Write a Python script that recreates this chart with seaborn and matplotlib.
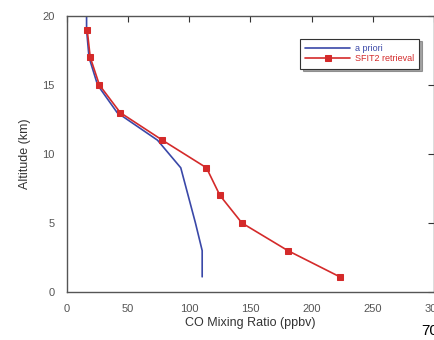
import matplotlib
matplotlib.use("Agg")
import matplotlib.pyplot as plt
import seaborn as sns
import pandas as pd

sns.set_style("white")
plt.rcParams['font.family'] = ['Liberation Sans', 'DejaVu Sans']

apriori_alt = [20, 19, 17, 15, 13, 11, 9, 7, 5, 3, 1.1]
apriori_co = [16, 16, 18, 25, 41, 74, 93, 99, 105, 110.5, 110.5]
retr_alt = [19, 17, 15, 13, 11, 9, 7, 5, 3, 1.1]
retr_co = [16.5, 19, 26.5, 43.5, 78, 114, 125, 143, 180.5, 223]

xticks = [0, 50, 100, 150, 200, 250, 300]
yticks = [0, 5, 10, 15, 20]

df_a = pd.DataFrame({"co": apriori_co, "alt": apriori_alt})
df_r = pd.DataFrame({"co": retr_co, "alt": retr_alt})

fig = plt.figure(figsize=(4.35, 3.4), dpi=100)
ax = fig.add_axes([67/435, 48/340, (434-67)/435, (292-16)/340])

sns.lineplot(data=df_a, x="co", y="alt", sort=False, estimator=None, ax=ax,
             color="#3a48a8", lw=1.2, label="a priori")
sns.lineplot(data=df_r, x="co", y="alt", sort=False, estimator=None, ax=ax,
             color="#d42a2a", lw=1.2, marker="s", markersize=4.5,
             markeredgecolor="#d42a2a", label="SFIT2 retrieval")

ax.set_xlim(0, 300)
ax.set_ylim(0, 20)
ax.set_xticks(xticks)
ax.set_yticks(yticks)
ax.tick_params(direction="in", top=True, right=True, length=4, width=0.8,
               labelsize=8, colors="#333333", pad=9, labelcolor="#555555")
for s in ax.spines.values():
    s.set_color("#555555")
    s.set_linewidth(1.0)
ax.set_xlabel("CO Mixing Ratio (ppbv)", fontsize=9, color="#333333", labelpad=2)
ax.set_ylabel("Altitude (km)", fontsize=9, color="#333333", labelpad=8)

leg = ax.legend(loc="upper right", bbox_to_anchor=(0.965, 0.925), fontsize=6.5,
                frameon=True, fancybox=False, shadow=True, borderpad=0.6,
                handlelength=5.0, labelspacing=0.15, handletextpad=0.5,
                borderaxespad=0.2)
leg.get_frame().set_edgecolor("#333333")
leg.get_frame().set_linewidth(0.8)
for t, c in zip(leg.get_texts(), ["#3a48a8", "#d42a2a"]):
    t.set_color(c)

fig.text(421/435, 1 - 338/340, "70", fontsize=11, color="black", ha="left", va="bottom")

fig.savefig("out.png", dpi=100)
